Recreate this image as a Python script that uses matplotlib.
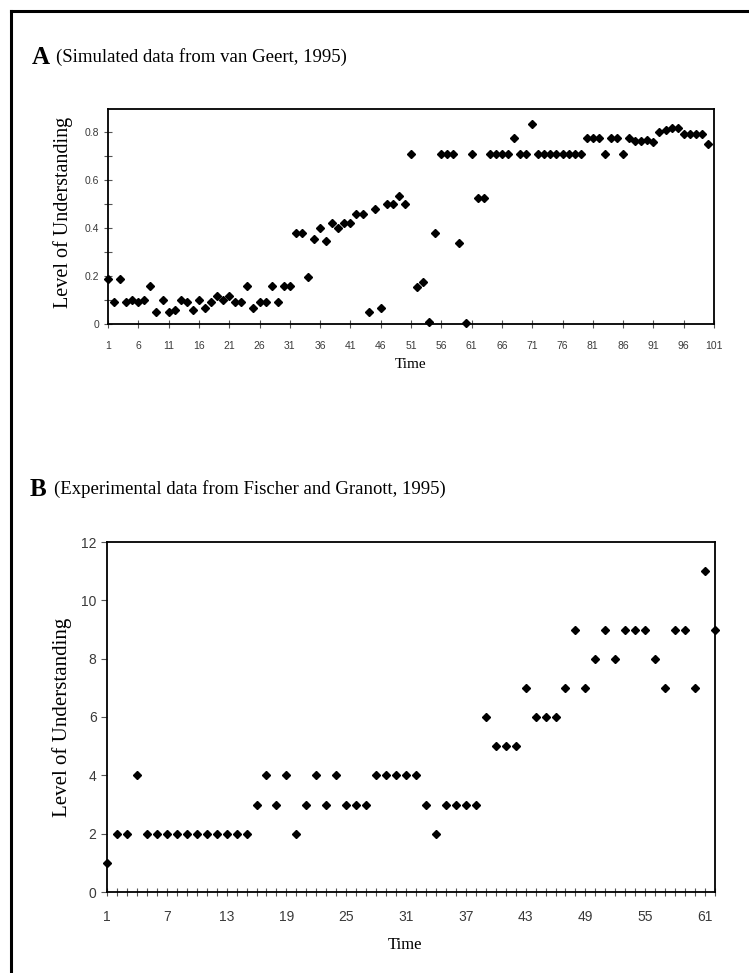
import matplotlib
matplotlib.use("Agg")
import matplotlib.pyplot as plt
from matplotlib.lines import Line2D

# panel A: simulated data (van Geert, 1995)
sim_time = list(range(1, 101))
sim_level = [0.19, 0.09, 0.19, 0.09, 0.10, 0.09, 0.10, 0.16, 0.05, 0.10,
             0.05, 0.06, 0.10, 0.09, 0.06, 0.10, 0.065, 0.09, 0.115, 0.10,
             0.115, 0.09, 0.09, 0.16, 0.065, 0.09, 0.09, 0.16, 0.09, 0.16,
             0.16, 0.38, 0.38, 0.195, 0.355, 0.40, 0.345, 0.42, 0.40, 0.42,
             0.42, 0.46, 0.46, 0.05, 0.48, 0.065, 0.50, 0.50, 0.535, 0.50,
             0.71, 0.155, 0.175, 0.01, 0.38, 0.71, 0.71, 0.71, 0.34, 0.005,
             0.71, 0.525, 0.525, 0.71, 0.71, 0.71, 0.71, 0.775, 0.71, 0.71,
             0.835, 0.71, 0.71, 0.71, 0.71, 0.71, 0.71, 0.71, 0.71, 0.775,
             0.775, 0.775, 0.71, 0.775, 0.775, 0.71, 0.775, 0.765, 0.765, 0.77,
             0.76, 0.80, 0.81, 0.82, 0.82, 0.795, 0.795, 0.795, 0.795, 0.75]
sim_xticks = list(range(1, 102, 5))
sim_yticks = [0, 0.2, 0.4, 0.6, 0.8]
sim_yticklabels = ["0", "0.2", "0.4", "0.6", "0.8"]

# panel B: experimental data (Fischer and Granott, 1995)
exp_time = list(range(1, 63))
exp_level = [1, 2, 2, 4, 2, 2, 2, 2, 2, 2,
             2, 2, 2, 2, 2, 3, 4, 3, 4, 2,
             3, 4, 3, 4, 3, 3, 3, 4, 4, 4,
             4, 4, 3, 2, 3, 3, 3, 3, 6, 5,
             5, 5, 7, 6, 6, 6, 7, 9, 7, 8,
             9, 8, 9, 9, 9, 8, 7, 9, 9, 7,
             11, 9]
exp_xticks = list(range(1, 62, 6))
exp_yticks = list(range(0, 13, 2))

W, H = 749, 973
serif = "Liberation Serif"
sans = "Liberation Sans"
tick_col = "#3a3a3a"

fig = plt.figure(figsize=(W / 100, H / 100), dpi=100)

# outer frame (only left and top edges are visible)
fig.add_artist(Line2D([11 / W, 11 / W], [0, 1 - 11 / H], color="black", lw=2.2,
                      transform=fig.transFigure))
fig.add_artist(Line2D([11 / W, 1], [1 - 11 / H, 1 - 11 / H], color="black", lw=2.2,
                      transform=fig.transFigure))

# ---- panel A ----
axA = fig.add_axes([108 / W, 1 - 324 / H, (714 - 108) / W, (324 - 108.5) / H])
axA.plot(sim_time, sim_level, linestyle="none", marker="D", ms=3.9,
         color="black", clip_on=False, zorder=3)
axA.set_xlim(1, 101)
axA.set_ylim(0, 0.9)
axA.set_xticks(sim_xticks)
axA.set_xticklabels([str(t) for t in sim_xticks])
axA.set_yticks(sim_yticks)
axA.set_yticklabels(sim_yticklabels)
axA.set_yticks([0.1, 0.3, 0.5, 0.7], minor=True)
axA.tick_params(axis="both", which="both", direction="inout", length=6,
                width=0.8, color="#555555", labelsize=7.5, labelcolor=tick_col)
axA.tick_params(axis="x", pad=9)
for lab in axA.get_xticklabels() + axA.get_yticklabels():
    lab.set_fontfamily(sans)
for sp in axA.spines.values():
    sp.set_linewidth(1.3)
axA.set_ylabel("Level of Understanding", fontfamily=serif, fontsize=14.5)
axA.yaxis.set_label_coords(-0.058, 0.52)
axA.set_xlabel("Time", fontfamily=serif, fontsize=11)
axA.xaxis.set_label_coords(0.5, -0.16)

fig.text(32 / W, 1 - 57 / H, "A", fontfamily=serif, fontweight="bold",
         fontsize=18, va="center", ha="left")
fig.text(56 / W, 1 - 57 / H, "(Simulated data from van Geert, 1995)",
         fontfamily=serif, fontsize=13.5, va="center", ha="left")

# ---- panel B ----
axB = fig.add_axes([107 / W, 1 - 892 / H, (715 - 107) / W, (892 - 542) / H])
axB.plot(exp_time, exp_level, linestyle="none", marker="D", ms=4.3,
         color="black", clip_on=False, zorder=3)
axB.set_xlim(1, 62)
axB.set_ylim(0, 12)
axB.set_xticks(exp_xticks)
axB.set_xticklabels([str(t) for t in exp_xticks])
axB.set_xticks(exp_time, minor=True)
axB.set_yticks(exp_yticks)
axB.tick_params(axis="x", which="both", direction="inout", length=6,
                width=0.8, color="#555555")
axB.tick_params(axis="x", pad=10)
axB.tick_params(axis="y", direction="out", length=4, width=0.8, color="#555555")
axB.tick_params(axis="both", labelsize=10, labelcolor=tick_col)
for lab in axB.get_xticklabels() + axB.get_yticklabels():
    lab.set_fontfamily(sans)
for sp in axB.spines.values():
    sp.set_linewidth(1.3)
axB.set_ylabel("Level of Understanding", fontfamily=serif, fontsize=15)
axB.yaxis.set_label_coords(-0.058, 0.5)
axB.set_xlabel("Time", fontfamily=serif, fontsize=12)
axB.xaxis.set_label_coords(0.49, -0.128)

fig.text(30 / W, 1 - 489 / H, "B", fontfamily=serif, fontweight="bold",
         fontsize=18, va="center", ha="left")
fig.text(54 / W, 1 - 489 / H, "(Experimental data from Fischer and Granott, 1995)",
         fontfamily=serif, fontsize=13.5, va="center", ha="left")

fig.savefig("out.png", dpi=100)
